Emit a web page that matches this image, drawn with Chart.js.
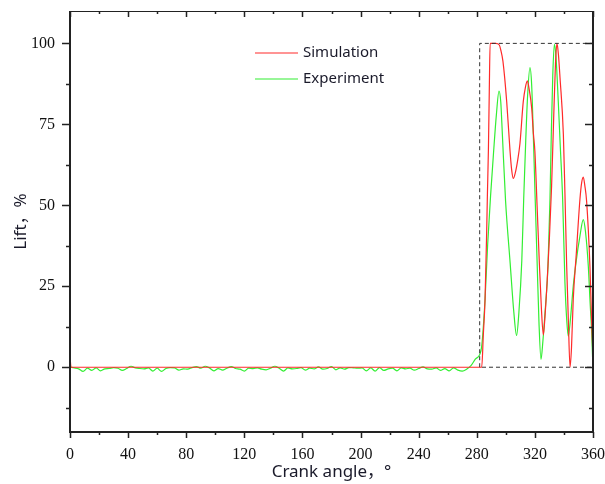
<!DOCTYPE html>
<html lang="en">
<head>
    <meta charset="UTF-8">
    <title>Valve lift</title>
    <style>
        body { margin: 0; background: #fff; }
        canvas { display: block; }
    </style>
</head>
<body>
<canvas id="chart" width="605" height="484"></canvas>

<script src="https://cdn.jsdelivr.net/npm/chart.js@4.4.1/dist/chart.umd.min.js"></script>
<script>
  // tick labels
  const xTicks = [0, 40, 80, 120, 160, 200, 240, 280, 320, 360];
  const yTicks = [0, 25, 50, 75, 100];
  const xMinor = [20, 60, 100, 140, 180, 220, 260, 300, 340];
  const yMinor = [-12.5, 12.5, 37.5, 62.5, 87.5];

  // simulation curve
  const simAngle = [0, 0.7, 283.4, 284.5, 285.7, 286.8, 287.3, 288, 288.6, 289.2, 291, 293, 295.5, 296.5, 298,
    300.6, 302.9, 304, 305.1, 306.5, 308, 309.7, 312, 313.5, 314.8, 316, 317.8, 319, 320, 321.5, 323, 324.5,
    325.8, 327, 328.5, 330, 331.5, 333, 334.2, 335.2, 336.3, 337.3, 339.6, 340.7, 341.9, 343, 344.2, 345.2,
    346.4, 348.5, 351, 352.2, 353.3, 354.4, 355.6, 357.9, 359, 360];
  const simLift = [3.5, 0, 0, 10, 21, 41.6, 53, 67, 85, 100, 100, 100, 99.5, 98, 94.5,
    82, 66.7, 61, 58.3, 60, 63.5, 69, 82, 86.5, 88.4, 86, 80, 72, 66.7, 50, 33, 18,
    10, 16, 27, 40, 56, 78, 94, 100, 96, 89.4, 71.9, 53.4, 31, 15, 0, 6,
    21, 35, 51.8, 57, 58.7, 56, 51.3, 31, 15, 3];

  // experiment curve
  const expAngle = [0, 3, 6, 9, 12, 15, 18, 21, 24, 27, 30, 33, 36, 39, 42, 45, 48, 51, 54, 57, 60,
    63, 66, 69, 72, 75, 78, 81, 84, 87, 90, 93, 96, 99, 102, 105, 108, 111, 114, 117, 120,
    123, 126, 129, 132, 135, 138, 141, 144, 147, 150, 153, 156, 159, 162, 165, 168, 171, 174, 177, 180,
    183, 186, 189, 192, 195, 198, 201, 204, 207, 210, 213, 216, 219, 222, 225, 228, 231, 234, 237, 240,
    243, 246, 249, 252, 255, 258, 261, 264, 267, 270, 273,
    276, 279, 282, 283.4, 285.7, 287.5, 289.5, 291.5, 293.5, 295.3, 296.5, 297.6, 299.8, 303, 305.5, 307.4,
    309, 311, 312.3, 313.7, 315, 316.6, 317.8, 318.9, 320, 321.5, 322.8, 324.2, 325.5, 327, 329, 330.4,
    331.3, 332.3, 333.4, 334.5, 336.1, 337.5, 339.1, 340.7, 342, 343, 344.5, 346.4, 348.5, 351, 353.3,
    354.8, 356.8, 358, 359.1, 360];
  const expLift = [0, -0.2, -0.5, -1.3, -0.3, -1.0, -0.2, -1.1, -0.5, -0.4, -0.1, -0.3, -1.0, -0.4, 0.3, -0.2, -0.4, -0.5, -0.2, -1.2, -0.3,
    -1.3, -0.4, -0.1, -0.2, -0.9, -0.5, -0.6, -0.1, 0.2, -0.3, 0.3, -0.2, -1.1, -0.4, -0.9, -0.3, 0.2, -0.4, -0.6, -1.2,
    -0.3, -0.4, -0.2, -0.6, -0.8, -0.3, 0.3, -0.3, -1.2, -0.2, -0.5, -0.4, -0.1, -0.9, -0.3, -0.5, 0.1, -0.6, -0.4, 0.2,
    -0.8, -0.2, -0.6, -0.1, -0.2, -0.3, -0.2, -1.1, -0.2, -1.2, -0.1, -1.0, -0.5, -0.3, -1.1, -0.2, -0.5, -0.3, -0.9, -0.4,
    0.1, -0.5, -0.6, -0.2, -1.0, -0.4, -1.1, -0.2, -0.9, -1.2, -0.6,
    0.5, 2.5, 3.9, 6.5, 21, 38, 53, 66, 78, 85.3, 82, 72, 51.5, 32, 17, 9.8,
    17, 33, 52, 70, 84, 92.5, 87, 72, 55, 33, 14, 2.4, 8, 17, 31, 52,
    72, 90, 99.7, 96, 82, 68, 52, 26, 14, 9.6, 15, 25, 33, 40.5, 45.6,
    42, 31, 20, 10.6, -0.7];

  // dashed frame around the lift event
  const boxAngle = [282, 282, 360, 360, 282];
  const boxLift = [0, 100, 100, 0, 0];

  const toPoints = (xs, ys) => xs.map((x, i) => ({x: x, y: ys[i]}));

  const serif = "'Liberation Serif', 'Times New Roman', serif";
  const sans = "'Noto Sans', 'Open Sans', 'Noto Sans CJK SC', sans-serif";

  // axis frame + minor/major ticks, and the in-plot legend
  const framePlugin = {
    id: 'frame',
    afterDraw(chart) {
      const ctx = chart.ctx;
      const a = chart.chartArea;
      const xs = chart.scales.x, ys = chart.scales.y;
      ctx.save();
      ctx.strokeStyle = '#222';
      ctx.lineWidth = 2;
      ctx.beginPath();
      ctx.moveTo(a.left, a.top); ctx.lineTo(a.left, a.bottom);
      ctx.lineTo(a.right, a.bottom); ctx.lineTo(a.right, a.top);
      ctx.stroke();
      ctx.lineWidth = 1;
      ctx.beginPath();
      ctx.moveTo(a.left, a.top + 0.5); ctx.lineTo(a.right, a.top + 0.5);
      ctx.stroke();

      ctx.lineWidth = 1.5;
      ctx.beginPath();
      const xt = (v, len) => {
        const p = Math.round(xs.getPixelForValue(v)) + 0.5;
        ctx.moveTo(p, a.bottom); ctx.lineTo(p, a.bottom + len);
        ctx.moveTo(p, a.top); ctx.lineTo(p, a.top + len);
      };
      const yt = (v, len) => {
        const p = Math.round(ys.getPixelForValue(v)) + 0.5;
        ctx.moveTo(a.left, p); ctx.lineTo(a.left - len, p);
        ctx.moveTo(a.right, p); ctx.lineTo(a.right - len, p);
      };
      xTicks.forEach(v => xt(v, 6));
      xMinor.forEach(v => xt(v, 3));
      yTicks.forEach(v => yt(v, 8));
      yMinor.forEach(v => yt(v, 4));
      ctx.stroke();

      // legend
      let ly = a.top + 42;
      chart.data.datasets.forEach(ds => {
        if (!ds.label) return;
        ctx.strokeStyle = ds.borderColor;
        ctx.lineWidth = 1.2;
        ctx.beginPath();
        ctx.moveTo(a.left + 185, ly); ctx.lineTo(a.left + 228, ly);
        ctx.stroke();
        ctx.fillStyle = '#1a1a2a';
        ctx.font = '15px ' + sans;
        ctx.textBaseline = 'middle';
        ctx.fillText(ds.label, a.left + 233, ly);
        ly += 26;
      });
      ctx.restore();
    }
  };

  new Chart(document.getElementById('chart'), {
    type: 'line',
    data: {
      datasets: [
        {
          data: toPoints(boxAngle, boxLift),
          borderColor: '#333',
          borderWidth: 1,
          borderDash: [4, 3],
          pointRadius: 0,
          tension: 0
        },
        {
          label: 'Simulation',
          data: toPoints(simAngle, simLift),
          borderColor: '#ff2a2a',
          borderWidth: 1.2,
          pointRadius: 0,
          cubicInterpolationMode: 'monotone'
        },
        {
          label: 'Experiment',
          data: toPoints(expAngle, expLift),
          borderColor: '#33ee33',
          borderWidth: 1.2,
          pointRadius: 0,
          cubicInterpolationMode: 'monotone'
        }
      ]
    },
    options: {
      responsive: false,
      animation: false,
      layout: { padding: { top: 11, right: 12, left: 0, bottom: 0 } },
      plugins: { legend: { display: false }, tooltip: { enabled: false } },
      scales: {
        x: {
          type: 'linear',
          min: 0,
          max: 360,
          afterBuildTicks: s => { s.ticks = xTicks.map(v => ({value: v})); },
          afterFit: s => { s.height = 52; s.paddingLeft = 0; s.paddingRight = 0; },
          grid: { display: false, drawTicks: false },
          border: { display: false },
          ticks: { font: { family: serif, size: 16 }, color: '#111', padding: 13 },
          title: {
            display: true,
            text: 'Crank angle，°',
            font: { family: sans, size: 17 },
            color: '#1a1a2a',
            padding: { top: 0, bottom: 2 }
          }
        },
        y: {
          type: 'linear',
          min: -20,
          max: 110,
          afterBuildTicks: s => { s.ticks = yTicks.map(v => ({value: v})); },
          afterFit: s => { s.width = 70; s.paddingTop = 0; s.paddingBottom = 0; },
          grid: { display: false, drawTicks: false },
          border: { display: false },
          ticks: { font: { family: serif, size: 16 }, color: '#111', padding: 15 },
          title: {
            display: true,
            text: 'Lift，%',
            font: { family: sans, size: 17 },
            color: '#1a1a2a',
            padding: { top: 11, bottom: 0 }
          }
        }
      }
    },
    plugins: [framePlugin]
  });
</script>
</body>
</html>
